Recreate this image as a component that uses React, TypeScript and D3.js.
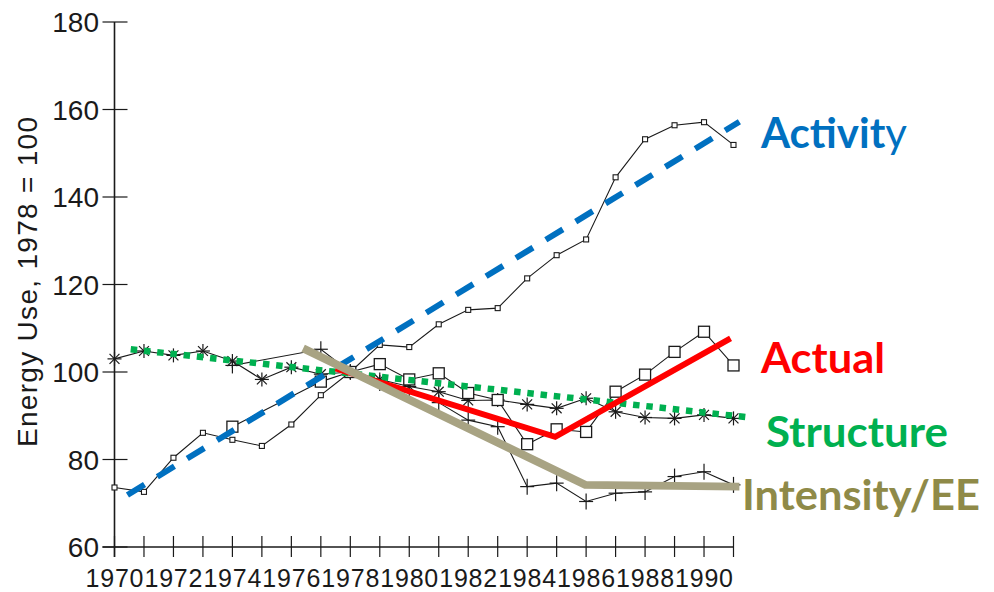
import React from "react";
import * as d3 from "d3";

const years = [1970,1971,1972,1973,1974,1975,1976,1977,1978,1979,1980,1981,1982,1983,1984,1985,1986,1987,1988,1989,1990,1991];
const tickLabelYears = [1970,1972,1974,1976,1978,1980,1982,1984,1986,1988,1990];
const yTicks = [60,80,100,120,140,160,180];

// scanned black series
const activityValues = [73.6,72.6,80.4,86.1,84.5,83.1,88.0,94.7,100,106.2,105.7,110.9,114.2,114.6,121.4,126.7,130.3,144.5,153.2,156.4,157.1,151.9];
const actualYears = [1974,1977,1978,1979,1980,1981,1982,1983,1984,1985,1986,1987,1988,1989,1990,1991];
const actualValues = [87.5,97.8,100,101.8,98.3,99.7,95.2,93.6,83.5,86.9,86.3,95.5,99.4,104.6,109.2,101.5];
const structureValues = [103,104.8,103.8,104.8,102.5,98.3,101.1,99.5,100,98.3,96.7,95.5,93.5,93.6,92.6,91.7,94.0,90.9,89.6,89.4,90.2,89.4];
const intensityYears = [1974,1977,1978,1979,1980,1981,1982,1983,1984,1985,1986,1987,1988,1989,1990,1991];
const intensityValues = [101.5,105.2,100,97.5,95.5,93,89,87.5,73.8,74.6,70.4,72.3,72.6,76.1,77.2,74.2];

// coloured overlay trend lines
const activityTrendX = [1970.44, 1991.2];
const activityTrendY = [71.9, 157.2];
const structureTrendX = [1970.55, 1991.4];
const structureTrendY = [105.2, 89.7];
const actualTrendX = [1977.5, 1984.95, 1990.9];
const actualTrendY = [100.8, 85.2, 107.7];
const intensityTrendX = [1976.4, 1985.97, 1991.2];
const intensityTrendY = [105.4, 74.2, 73.8];

const W = 994, H = 592;
const x = d3.scaleLinear().domain([1970, 1991]).range([114.5, 733.5]);
const y = d3.scaleLinear().domain([60, 180]).range([547, 22]);
const line = d3.line<[number, number]>().x(d => x(d[0])).y(d => y(d[1]));

const zip = (xs: number[], ys: number[]): [number, number][] => xs.map((v, i) => [v, ys[i]]);

const ink = "#1a1a1a";

export default function App() {
  const act = zip(years, activityValues);
  const actual = zip(actualYears, actualValues);
  const str = zip(years, structureValues);
  const inten = zip(intensityYears, intensityValues);
  const axisX = x(1970);
  return (
    <svg width={W} height={H} style={{ position: "absolute", left: 0, top: 0, background: "#fff" }}>
      <rect width={W} height={H} fill="#fff" />
      {/* axes */}
      <line x1={axisX} x2={axisX} y1={y(180)} y2={y(60) + 10} stroke={ink} strokeWidth={1.6} />
      <line x1={axisX - 12} x2={x(1991)} y1={y(60)} y2={y(60)} stroke={ink} strokeWidth={1.4} />
      {yTicks.map(t => (
        <g key={t}>
          <line x1={axisX - 12} x2={axisX + 13} y1={y(t)} y2={y(t)} stroke={ink} strokeWidth={1.2} />
          <text x={99} y={y(t)} dy="0.36em" textAnchor="end" fontFamily="Liberation Sans, Arial, sans-serif" fontSize={28} fill={ink}>{t}</text>
        </g>
      ))}
      {years.map(yr => (
        <line key={yr} x1={x(yr)} x2={x(yr)} y1={y(60) - 11} y2={y(60) + 10} stroke={ink} strokeWidth={1.2} />
      ))}
      {tickLabelYears.map(yr => (
        <text key={yr} x={x(yr)} y={587} textAnchor="middle" fontFamily="Liberation Sans, Arial, sans-serif" fontSize={25} fill={ink} textLength={58} lengthAdjust="spacing">{yr}</text>
      ))}
      <text transform="translate(37,282) rotate(-90)" textAnchor="middle" fontFamily="Liberation Sans, Arial, sans-serif" fontSize={28} fill={ink} textLength={330} lengthAdjust="spacing">Energy Use, 1978 = 100</text>

      {/* scanned series lines */}
      <path d={line(act) || ""} fill="none" stroke={ink} strokeWidth={1.1} />
      <path d={line(actual) || ""} fill="none" stroke={ink} strokeWidth={1.1} />
      <path d={line(str) || ""} fill="none" stroke={ink} strokeWidth={1.1} />
      <path d={line(inten) || ""} fill="none" stroke={ink} strokeWidth={1.1} />

      {/* markers */}
      {inten.map(([a, b], i) => (
        <g key={"p" + i} stroke={ink} strokeWidth={1.2}>
          <line x1={x(a) - 7} x2={x(a) + 7} y1={y(b)} y2={y(b)} />
          <line x1={x(a)} x2={x(a)} y1={y(b) - 8} y2={y(b) + 8} />
        </g>
      ))}
      {str.map(([a, b], i) => (
        <g key={"s" + i} stroke={ink} strokeWidth={1.2} transform={`translate(${x(a)},${y(b)})`}>
          {[0, 45, 90, 135].map(ang => (
            <line key={ang} x1={-7 * Math.cos(ang * Math.PI / 180)} y1={-7 * Math.sin(ang * Math.PI / 180)} x2={7 * Math.cos(ang * Math.PI / 180)} y2={7 * Math.sin(ang * Math.PI / 180)} />
          ))}
        </g>
      ))}
      {act.map(([a, b], i) => (
        <rect key={"a" + i} x={x(a) - 2.5} y={y(b) - 2.5} width={5} height={5} fill="#fff" stroke={ink} strokeWidth={1.1} />
      ))}
      {actual.map(([a, b], i) => (
        <rect key={"q" + i} x={x(a) - 5.5} y={y(b) - 5.5} width={11} height={11} fill="#fff" stroke={ink} strokeWidth={1.3} />
      ))}

      {/* coloured overlays */}
      <path d={line(zip(structureTrendX, structureTrendY)) || ""} fill="none" stroke="#00B050" strokeWidth={6.5} strokeDasharray="6.5 6.8" />
      <path d={line(zip(activityTrendX, activityTrendY)) || ""} fill="none" stroke="#0070C0" strokeWidth={6} strokeDasharray="20 15" />
      <path d={line(zip(actualTrendX, actualTrendY)) || ""} fill="none" stroke="#FF0000" strokeWidth={6} strokeLinejoin="miter" />
      <path d={line(zip(intensityTrendX, intensityTrendY)) || ""} fill="none" stroke="#A8A383" strokeWidth={8} strokeLinejoin="miter" />

      {/* labels */}
      <text x={761} y={148} fontFamily="Lato, 'Open Sans', sans-serif" fontWeight="bold" fontSize={42} fill="#0070C0">Activit<tspan fontWeight="normal">y</tspan></text>
      <text x={761} y={373} fontFamily="Lato, 'Open Sans', sans-serif" fontWeight="bold" fontSize={42} fill="#FF0000" textLength={124} lengthAdjust="spacingAndGlyphs">Actual</text>
      <text x={766} y={447} fontFamily="Lato, 'Open Sans', sans-serif" fontWeight="bold" fontSize={42} fill="#00B050" textLength={182} lengthAdjust="spacingAndGlyphs">Structure</text>
      <text x={742} y={510} fontFamily="Lato, 'Open Sans', sans-serif" fontWeight="bold" fontSize={42} fill="#8F8A48" textLength={238} lengthAdjust="spacingAndGlyphs">Intensity/EE</text>
    </svg>
  );
}
